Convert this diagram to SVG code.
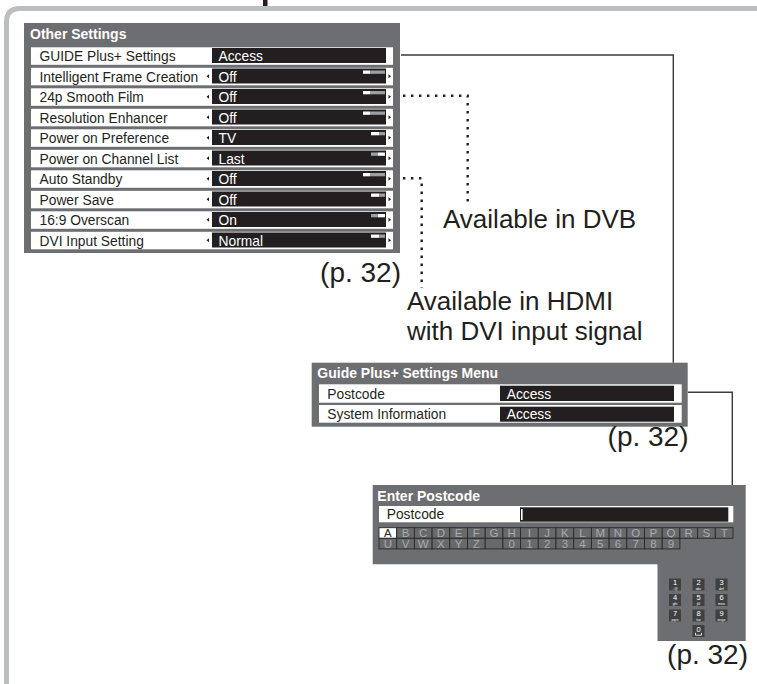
<svg xmlns="http://www.w3.org/2000/svg" width="757" height="684" viewBox="0 0 757 684">
<style>
.panel{fill:#6d6e71}
.row{fill:#ffffff}
.val{fill:#231f20}
.ttl{font-family:"Liberation Sans",Arial,sans-serif;font-weight:bold;font-size:14px;fill:#ffffff}
.lbl{font-family:"Liberation Sans",Arial,sans-serif;font-size:13.8px;fill:#231f20}
.vtx{font-family:"Liberation Sans",Arial,sans-serif;font-size:13.8px;fill:#ffffff}
.big{font-family:"Liberation Sans",Arial,sans-serif;font-size:26px;fill:#231f20}
.pg{font-family:"Liberation Sans",Arial,sans-serif;font-size:28px;fill:#231f20}
.arr{fill:#231f20}
.sw{fill:#ffffff}
.sg{fill:#9d9fa2}
.key{fill:#68696b;stroke:#2a2a2b;stroke-width:0.9}
.ktx{font-family:"Liberation Sans",Arial,sans-serif;font-size:11.5px;fill:#a9aaac;text-anchor:middle}
.pad{fill:#3f4042}
.pd{font-family:"Liberation Sans",Arial,sans-serif;font-size:7.5px;fill:#ffffff;text-anchor:middle}
.ps{font-family:"Liberation Sans",Arial,sans-serif;font-size:3.5px;fill:#ffffff;text-anchor:middle}
.solid{fill:none;stroke:#3a3a3b;stroke-width:1.4}
.dot{fill:none;stroke:#231f20;stroke-width:2.4;stroke-dasharray:2.4 5.6}
</style>

<g id="frame">
<path d="M6.5,684 V22 Q6.5,8.5 20,8.5 H757" fill="none" stroke="#bcbec0" stroke-width="5"/>
<rect x="263" y="0" width="4.5" height="6" fill="#231f20"/>
</g>

<g id="other-settings">
<rect class="panel" x="24" y="23" width="376" height="230"/>
<text class="ttl" x="30" y="39">Other Settings</text>

<rect class="row" x="31" y="47.3" width="362" height="17.5"/>
<rect class="val" x="212" y="48" width="174" height="15"/>
<text class="lbl" x="39.5" y="61">GUIDE Plus+ Settings</text>
<text class="vtx" x="218.5" y="61">Access</text>

<rect class="row" x="31" y="67.8" width="362" height="17.5"/>
<rect class="val" x="212" y="68.5" width="174" height="15"/>
<text class="lbl" x="39.5" y="81.5">Intelligent Frame Creation</text>
<text class="vtx" x="218.5" y="81.5">Off</text>
<polygon class="arr" points="206.5,76.3 209,74.3 209,78.3"/>
<polygon class="arr" points="388.5,74.3 391,76.3 388.5,78.3"/>
<rect class="sw" x="363" y="70.5" width="7" height="3.3"/><rect class="sg" x="370" y="70.5" width="15" height="3.3"/>

<rect class="row" x="31" y="88.3" width="362" height="17.5"/>
<rect class="val" x="212" y="89" width="174" height="15"/>
<text class="lbl" x="39.5" y="102">24p Smooth Film</text>
<text class="vtx" x="218.5" y="102">Off</text>
<polygon class="arr" points="206.5,96.8 209,94.8 209,98.8"/>
<polygon class="arr" points="388.5,94.8 391,96.8 388.5,98.8"/>
<rect class="sw" x="363" y="91" width="7" height="3.3"/><rect class="sg" x="370" y="91" width="15" height="3.3"/>

<rect class="row" x="31" y="108.8" width="362" height="17.5"/>
<rect class="val" x="212" y="109.5" width="174" height="15"/>
<text class="lbl" x="39.5" y="122.5">Resolution Enhancer</text>
<text class="vtx" x="218.5" y="122.5">Off</text>
<polygon class="arr" points="206.5,117.3 209,115.3 209,119.3"/>
<polygon class="arr" points="388.5,115.3 391,117.3 388.5,119.3"/>
<rect class="sw" x="363" y="111.5" width="7" height="3.3"/><rect class="sg" x="370" y="111.5" width="15" height="3.3"/>

<rect class="row" x="31" y="129.3" width="362" height="17.5"/>
<rect class="val" x="212" y="130" width="174" height="15"/>
<text class="lbl" x="39.5" y="143">Power on Preference</text>
<text class="vtx" x="218.5" y="143">TV</text>
<polygon class="arr" points="206.5,137.8 209,135.8 209,139.8"/>
<polygon class="arr" points="388.5,135.8 391,137.8 388.5,139.8"/>
<rect class="sw" x="371" y="132" width="8.5" height="3.3"/><rect class="sg" x="379.5" y="132" width="5.5" height="3.3"/>

<rect class="row" x="31" y="149.8" width="362" height="17.5"/>
<rect class="val" x="212" y="150.5" width="174" height="15"/>
<text class="lbl" x="39.5" y="163.5">Power on Channel List</text>
<text class="vtx" x="218.5" y="163.5">Last</text>
<polygon class="arr" points="206.5,158.3 209,156.3 209,160.3"/>
<polygon class="arr" points="388.5,156.3 391,158.3 388.5,160.3"/>
<rect class="sg" x="371" y="152.5" width="7" height="3.3"/><rect class="sw" x="378" y="152.5" width="7" height="3.3"/>

<rect class="row" x="31" y="170.3" width="362" height="17.5"/>
<rect class="val" x="212" y="171" width="174" height="15"/>
<text class="lbl" x="39.5" y="184">Auto Standby</text>
<text class="vtx" x="218.5" y="184">Off</text>
<polygon class="arr" points="206.5,178.8 209,176.8 209,180.8"/>
<polygon class="arr" points="388.5,176.8 391,178.8 388.5,180.8"/>
<rect class="sw" x="363" y="173" width="7" height="3.3"/><rect class="sg" x="370" y="173" width="15" height="3.3"/>

<rect class="row" x="31" y="190.8" width="362" height="17.5"/>
<rect class="val" x="212" y="191.5" width="174" height="15"/>
<text class="lbl" x="39.5" y="204.5">Power Save</text>
<text class="vtx" x="218.5" y="204.5">Off</text>
<polygon class="arr" points="206.5,199.3 209,197.3 209,201.3"/>
<polygon class="arr" points="388.5,197.3 391,199.3 388.5,201.3"/>
<rect class="sw" x="371" y="193.5" width="8.5" height="3.3"/><rect class="sg" x="379.5" y="193.5" width="5.5" height="3.3"/>

<rect class="row" x="31" y="211.3" width="362" height="17.5"/>
<rect class="val" x="212" y="212" width="174" height="15"/>
<text class="lbl" x="39.5" y="225">16:9 Overscan</text>
<text class="vtx" x="218.5" y="225">On</text>
<polygon class="arr" points="206.5,219.8 209,217.8 209,221.8"/>
<polygon class="arr" points="388.5,217.8 391,219.8 388.5,221.8"/>
<rect class="sg" x="371" y="214" width="7" height="3.3"/><rect class="sw" x="378" y="214" width="7" height="3.3"/>

<rect class="row" x="31" y="231.8" width="362" height="17.5"/>
<rect class="val" x="212" y="232.5" width="174" height="15"/>
<text class="lbl" x="39.5" y="245.5">DVI Input Setting</text>
<text class="vtx" x="218.5" y="245.5">Normal</text>
<polygon class="arr" points="206.5,240.3 209,238.3 209,242.3"/>
<polygon class="arr" points="388.5,238.3 391,240.3 388.5,242.3"/>
<rect class="sw" x="371" y="234.5" width="8.5" height="3.3"/><rect class="sg" x="379.5" y="234.5" width="5.5" height="3.3"/>

<text class="pg" x="401" y="282" text-anchor="end">(p. 32)</text>
</g>

<g id="label-dvb">
<text class="big" x="443" y="228">Available in DVB</text>
</g>

<g id="label-hdmi">
<text class="big" x="407" y="310">Available in HDMI</text>
<text class="big" x="407" y="340">with DVI input signal</text>
</g>

<g id="guide-menu">
<rect class="panel" x="311.7" y="362.7" width="376" height="64"/>
<text class="ttl" x="317.3" y="377.7">Guide Plus+ Settings Menu</text>
<rect class="row" x="319" y="384.3" width="362.7" height="18.4"/>
<rect class="val" x="500" y="385.7" width="174" height="15.3"/>
<text class="lbl" x="327.3" y="398.5">Postcode</text>
<text class="vtx" x="506.7" y="398.5">Access</text>
<rect class="row" x="319" y="405" width="362.7" height="17.7"/>
<rect class="val" x="500" y="406.7" width="174" height="15"/>
<text class="lbl" x="327.3" y="419">System Information</text>
<text class="vtx" x="506.7" y="419">Access</text>
<text class="pg" x="688.5" y="446" text-anchor="end">(p. 32)</text>
</g>

<g id="enter-postcode">
<path class="panel" d="M372.7,485 H745.7 V641 H657.5 V564.3 H372.7 Z"/>
<text class="ttl" x="377.3" y="500.7">Enter Postcode</text>
<rect class="row" x="379" y="506" width="354.3" height="16.3"/>
<rect class="val" x="520" y="507.3" width="208.3" height="14.4"/>
<rect x="521" y="509" width="1.6" height="11" fill="#ffffff"/>
<text class="lbl" x="386.7" y="519.3">Postcode</text>

<rect x="379" y="527.7" width="17.7" height="10.6" fill="#ffffff" stroke="#2a2a2b" stroke-width="0.9"/>
<rect class="key" x="396.7" y="527.7" width="17.7" height="10.6"/>
<rect class="key" x="414.4" y="527.7" width="17.7" height="10.6"/>
<rect class="key" x="432.1" y="527.7" width="17.7" height="10.6"/>
<rect class="key" x="449.8" y="527.7" width="17.7" height="10.6"/>
<rect class="key" x="467.5" y="527.7" width="17.7" height="10.6"/>
<rect class="key" x="485.2" y="527.7" width="17.7" height="10.6"/>
<rect class="key" x="502.9" y="527.7" width="17.7" height="10.6"/>
<rect class="key" x="520.6" y="527.7" width="17.7" height="10.6"/>
<rect class="key" x="538.3" y="527.7" width="17.7" height="10.6"/>
<rect class="key" x="556" y="527.7" width="17.7" height="10.6"/>
<rect class="key" x="573.7" y="527.7" width="17.7" height="10.6"/>
<rect class="key" x="591.4" y="527.7" width="17.7" height="10.6"/>
<rect class="key" x="609.1" y="527.7" width="17.7" height="10.6"/>
<rect class="key" x="626.8" y="527.7" width="17.7" height="10.6"/>
<rect class="key" x="644.5" y="527.7" width="17.7" height="10.6"/>
<rect class="key" x="662.2" y="527.7" width="17.7" height="10.6"/>
<rect class="key" x="679.9" y="527.7" width="17.7" height="10.6"/>
<rect class="key" x="697.6" y="527.7" width="17.7" height="10.6"/>
<rect class="key" x="715.3" y="527.7" width="17.7" height="10.6"/>
<text x="387.85" y="537.2" class="ktx" style="fill:#231f20">A</text>
<text x="405.55" y="537.2" class="ktx">B</text>
<text x="423.25" y="537.2" class="ktx">C</text>
<text x="440.95" y="537.2" class="ktx">D</text>
<text x="458.65" y="537.2" class="ktx">E</text>
<text x="476.35" y="537.2" class="ktx">F</text>
<text x="494.05" y="537.2" class="ktx">G</text>
<text x="511.75" y="537.2" class="ktx">H</text>
<text x="529.45" y="537.2" class="ktx">I</text>
<text x="547.15" y="537.2" class="ktx">J</text>
<text x="564.85" y="537.2" class="ktx">K</text>
<text x="582.55" y="537.2" class="ktx">L</text>
<text x="600.25" y="537.2" class="ktx">M</text>
<text x="617.95" y="537.2" class="ktx">N</text>
<text x="635.65" y="537.2" class="ktx">O</text>
<text x="653.35" y="537.2" class="ktx">P</text>
<text x="671.05" y="537.2" class="ktx">Q</text>
<text x="688.75" y="537.2" class="ktx">R</text>
<text x="706.45" y="537.2" class="ktx">S</text>
<text x="724.15" y="537.2" class="ktx">T</text>

<rect class="key" x="379" y="538.3" width="17.7" height="10.6"/>
<rect class="key" x="396.7" y="538.3" width="17.7" height="10.6"/>
<rect class="key" x="414.4" y="538.3" width="17.7" height="10.6"/>
<rect class="key" x="432.1" y="538.3" width="17.7" height="10.6"/>
<rect class="key" x="449.8" y="538.3" width="17.7" height="10.6"/>
<rect class="key" x="467.5" y="538.3" width="17.7" height="10.6"/>
<rect class="key" x="485.2" y="538.3" width="17.7" height="10.6"/>
<rect class="key" x="502.9" y="538.3" width="17.7" height="10.6"/>
<rect class="key" x="520.6" y="538.3" width="17.7" height="10.6"/>
<rect class="key" x="538.3" y="538.3" width="17.7" height="10.6"/>
<rect class="key" x="556" y="538.3" width="17.7" height="10.6"/>
<rect class="key" x="573.7" y="538.3" width="17.7" height="10.6"/>
<rect class="key" x="591.4" y="538.3" width="17.7" height="10.6"/>
<rect class="key" x="609.1" y="538.3" width="17.7" height="10.6"/>
<rect class="key" x="626.8" y="538.3" width="17.7" height="10.6"/>
<rect class="key" x="644.5" y="538.3" width="17.7" height="10.6"/>
<rect class="key" x="662.2" y="538.3" width="17.7" height="10.6"/>
<text x="387.85" y="547.8" class="ktx">U</text>
<text x="405.55" y="547.8" class="ktx">V</text>
<text x="423.25" y="547.8" class="ktx">W</text>
<text x="440.95" y="547.8" class="ktx">X</text>
<text x="458.65" y="547.8" class="ktx">Y</text>
<text x="476.35" y="547.8" class="ktx">Z</text>
<text x="511.75" y="547.8" class="ktx">0</text>
<text x="529.45" y="547.8" class="ktx">1</text>
<text x="547.15" y="547.8" class="ktx">2</text>
<text x="564.85" y="547.8" class="ktx">3</text>
<text x="582.55" y="547.8" class="ktx">4</text>
<text x="600.25" y="547.8" class="ktx">5</text>
<text x="617.95" y="547.8" class="ktx">6</text>
<text x="635.65" y="547.8" class="ktx">7</text>
<text x="653.35" y="547.8" class="ktx">8</text>
<text x="671.05" y="547.8" class="ktx">9</text>

<rect class="pad" x="669" y="578.5" width="12" height="12"/>
<rect class="pad" x="692.5" y="578.5" width="12" height="12"/>
<rect class="pad" x="715.5" y="578.5" width="12" height="12"/>
<rect class="pad" x="669" y="594" width="12" height="12"/>
<rect class="pad" x="692.5" y="594" width="12" height="12"/>
<rect class="pad" x="715.5" y="594" width="12" height="12"/>
<rect class="pad" x="669" y="609.5" width="12" height="12"/>
<rect class="pad" x="692.5" y="609.5" width="12" height="12"/>
<rect class="pad" x="715.5" y="609.5" width="12" height="12"/>
<rect class="pad" x="692.5" y="625" width="12" height="12"/>
<text class="pd" x="675" y="584.8">1</text><text class="ps" x="675" y="589.8">.:@</text>
<text class="pd" x="698.5" y="584.8">2</text><text class="ps" x="698.5" y="589.8">abc</text>
<text class="pd" x="721.5" y="584.8">3</text><text class="ps" x="721.5" y="589.8">def</text>
<text class="pd" x="675" y="600.3">4</text><text class="ps" x="675" y="605.3">ghi</text>
<text class="pd" x="698.5" y="600.3">5</text><text class="ps" x="698.5" y="605.3">jkl</text>
<text class="pd" x="721.5" y="600.3">6</text><text class="ps" x="721.5" y="605.3">mno</text>
<text class="pd" x="675" y="615.8">7</text><text class="ps" x="675" y="620.8">pqrs</text>
<text class="pd" x="698.5" y="615.8">8</text><text class="ps" x="698.5" y="620.8">tuv</text>
<text class="pd" x="721.5" y="615.8">9</text><text class="ps" x="721.5" y="620.8">wxyz</text>
<text class="pd" x="698.5" y="631.5">0</text>
<path d="M695.5,632.8 V635.2 H701.5 V632.8" fill="none" stroke="#ffffff" stroke-width="0.8"/>

<text class="pg" x="748" y="664" text-anchor="end">(p. 32)</text>
</g>

<g id="connectors">
<polyline class="solid" points="401,55 673.3,55 673.3,362.7"/>
<polyline class="solid" points="688,392.3 732.3,392.3 732.3,485"/>
<polyline class="dot" points="403,95.7 467.7,95.7 467.7,202"/>
<polyline class="dot" points="403,178.3 421.7,178.3 421.7,288"/>
</g>
</svg>
